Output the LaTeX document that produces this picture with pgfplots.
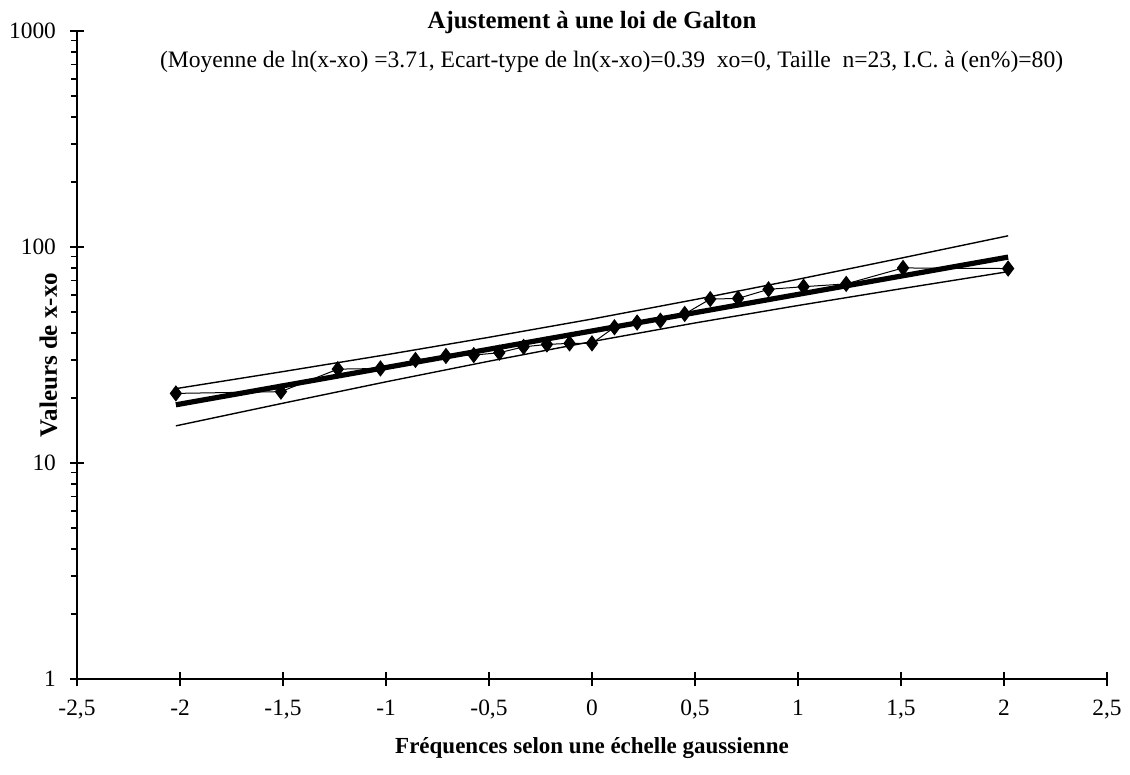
\documentclass[border=0pt]{standalone}
\usepackage{fontspec}
\setmainfont{Liberation Serif}
\usepackage{pgfplots}
\pgfplotsset{compat=1.18}

\begin{document}
\begin{tikzpicture}
\begin{axis}[
    scale only axis,
    width=515pt, height=324pt,
    ymode=log,
    xmin=-2.5, xmax=2.5,
    ymin=1, ymax=1000,
    axis lines*=left,
    axis line style={-, line width=0.6pt},
    xtick={-2.5,-2,...,2.5},
    ytick={1,10,100,1000},
    yticklabels={1,10,100,1000},
    /pgf/number format/use comma,
    /pgf/number format/assume math mode=true,
    tick label style={font=\fontsize{11.7}{13}\selectfont},
    tick align=center,
    major tick length=7pt,
    minor tick length=2.9pt,
    minor y tick style={xshift=-1.45pt},
    tick style={black, line width=0.6pt},
    xticklabel style={yshift=-3.5pt},
    yticklabel style={xshift=-3.5pt},
    xlabel={\textbf{Fréquences selon une échelle gaussienne}},
    ylabel={\textbf{Valeurs de x-xo}},
    xlabel style={font=\fontsize{11.5}{13}\selectfont, at={(rel axis cs:0.5,0)}, anchor=base, yshift=-37pt},
    ylabel style={font=\fontsize{12.5}{14}\selectfont, at={(rel axis cs:0,0.5)}, anchor=base, yshift=10pt},
    clip=false,
]
% bande de confiance
\addplot[black, line width=0.7pt] coordinates {
  (-2.02,22.1) (-1.5,26.5) (-1,31.7) (-0.5,38.2) (0,46.4)
  (0.5,57.1) (1,70.9) (1.5,88.8) (2.02,112.7)
};
\addplot[black, line width=0.7pt] coordinates {
  (-2.02,14.86) (-1.5,18.92) (-1,23.76) (-0.5,29.6) (0,36.5)
  (0.5,44.5) (1,53.6) (1.5,64.1) (2.02,76.9)
};
% droite de Galton
\addplot[black, line width=2.6pt] coordinates {(-2.02,18.6) (2.02,89.8)};
% observations
\addplot[black, line width=0.5pt, mark=diamond*, mark size=3.7pt,
         mark options={solid, fill=black}] coordinates {
  (-2.02,21.0) (-1.51,21.4) (-1.234,27.2) (-1.027,27.4) (-0.857,30.0)
  (-0.709,31.3) (-0.574,31.6) (-0.450,32.4) (-0.332,34.5) (-0.219,35.4)
  (-0.109,35.8) (0,35.8) (0.109,42.5) (0.219,44.7) (0.332,45.6)
  (0.450,49.0) (0.574,57.4) (0.709,57.8) (0.857,63.7) (1.027,65.5)
  (1.234,67.5) (1.51,80.0) (2.02,79.5)
};
\node[anchor=base, font=\fontsize{12.4}{14}\selectfont\bfseries]
  at (rel axis cs:0.5,1) [yshift=1.5pt] {Ajustement à une loi de Galton};
\node[anchor=base, font=\fontsize{11.8}{13}\selectfont]
  at (rel axis cs:0.519,1) [yshift=-18pt]
  {(Moyenne de ln(x-xo) =3.71, Ecart-type de ln(x-xo)=0.39 \ xo=0, Taille \ n=23, I.C. à (en\%)=80)};
\coordinate (bl) at (rel axis cs:0,0);
\coordinate (tr) at (rel axis cs:1,1);
\end{axis}
\pgfresetboundingbox
\path[use as bounding box] ([xshift=-38.5pt,yshift=-47.5pt]bl) rectangle ([xshift=11.5pt,yshift=15.5pt]tr);
\end{tikzpicture}
\end{document}
